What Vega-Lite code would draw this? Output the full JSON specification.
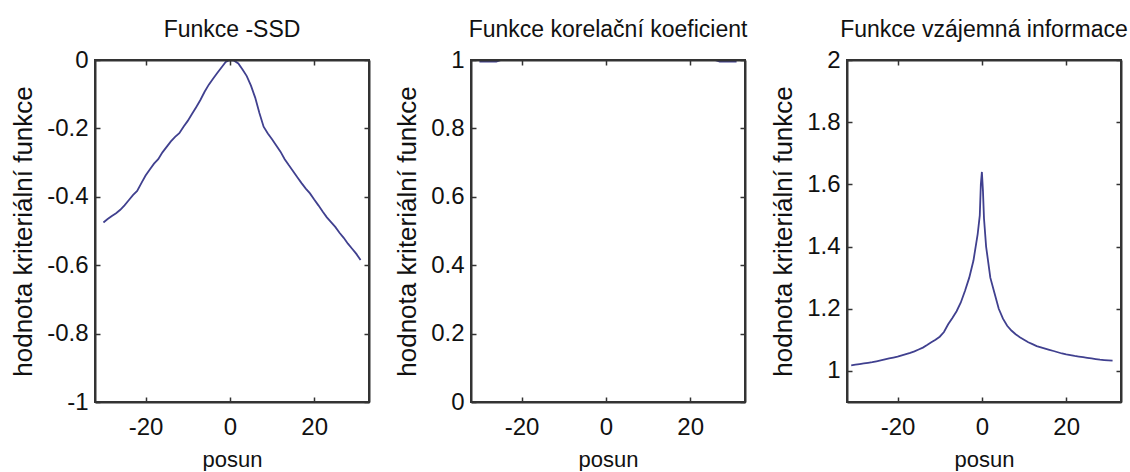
{
  "$schema": "https://vega.github.io/schema/vega-lite/v6.json",
  "background": "white",
  "padding": {"left": 9, "top": 18, "right": 0, "bottom": 0},
  "bounds": "flush",
  "spacing": 102,
  "datasets": {
    "ssd": [
      {"posun": -30, "hodnota": -0.475}, {"posun": -29, "hodnota": -0.465}, {"posun": -28, "hodnota": -0.456},
      {"posun": -27, "hodnota": -0.448}, {"posun": -26, "hodnota": -0.438}, {"posun": -25, "hodnota": -0.425},
      {"posun": -24, "hodnota": -0.41}, {"posun": -23, "hodnota": -0.395}, {"posun": -22, "hodnota": -0.383},
      {"posun": -21, "hodnota": -0.36}, {"posun": -20, "hodnota": -0.338}, {"posun": -19, "hodnota": -0.32},
      {"posun": -18, "hodnota": -0.303}, {"posun": -17, "hodnota": -0.29}, {"posun": -16, "hodnota": -0.27},
      {"posun": -15, "hodnota": -0.254}, {"posun": -14, "hodnota": -0.238}, {"posun": -13, "hodnota": -0.225},
      {"posun": -12, "hodnota": -0.214}, {"posun": -11, "hodnota": -0.195}, {"posun": -10, "hodnota": -0.178},
      {"posun": -9, "hodnota": -0.158}, {"posun": -8, "hodnota": -0.138}, {"posun": -7, "hodnota": -0.117},
      {"posun": -6, "hodnota": -0.093}, {"posun": -5, "hodnota": -0.072}, {"posun": -4, "hodnota": -0.055},
      {"posun": -3, "hodnota": -0.038}, {"posun": -2, "hodnota": -0.022}, {"posun": -1, "hodnota": -0.006},
      {"posun": 0, "hodnota": 0}, {"posun": 1, "hodnota": -0.002}, {"posun": 2, "hodnota": -0.01},
      {"posun": 3, "hodnota": -0.028}, {"posun": 4, "hodnota": -0.047}, {"posun": 5, "hodnota": -0.075},
      {"posun": 6, "hodnota": -0.11}, {"posun": 7, "hodnota": -0.155}, {"posun": 8, "hodnota": -0.195},
      {"posun": 9, "hodnota": -0.215}, {"posun": 10, "hodnota": -0.232}, {"posun": 11, "hodnota": -0.25},
      {"posun": 12, "hodnota": -0.268}, {"posun": 13, "hodnota": -0.29}, {"posun": 14, "hodnota": -0.308},
      {"posun": 15, "hodnota": -0.325}, {"posun": 16, "hodnota": -0.343}, {"posun": 17, "hodnota": -0.36},
      {"posun": 18, "hodnota": -0.376}, {"posun": 19, "hodnota": -0.39}, {"posun": 20, "hodnota": -0.408},
      {"posun": 21, "hodnota": -0.425}, {"posun": 22, "hodnota": -0.443}, {"posun": 23, "hodnota": -0.46},
      {"posun": 24, "hodnota": -0.474}, {"posun": 25, "hodnota": -0.488}, {"posun": 26, "hodnota": -0.505},
      {"posun": 27, "hodnota": -0.52}, {"posun": 28, "hodnota": -0.537}, {"posun": 29, "hodnota": -0.552},
      {"posun": 30, "hodnota": -0.567}, {"posun": 31, "hodnota": -0.585}
    ],
    "kor": [
      {"posun": -30, "hodnota": 0.996}, {"posun": -29, "hodnota": 0.996}, {"posun": -28, "hodnota": 0.996},
      {"posun": -27, "hodnota": 0.996}, {"posun": -26, "hodnota": 0.996}, {"posun": -25, "hodnota": 1},
      {"posun": -24, "hodnota": 1}, {"posun": -23, "hodnota": 1}, {"posun": -22, "hodnota": 1},
      {"posun": -21, "hodnota": 1}, {"posun": -20, "hodnota": 1}, {"posun": -19, "hodnota": 1},
      {"posun": -18, "hodnota": 1}, {"posun": -17, "hodnota": 1}, {"posun": -16, "hodnota": 1},
      {"posun": -15, "hodnota": 1}, {"posun": -14, "hodnota": 1}, {"posun": -13, "hodnota": 1},
      {"posun": -12, "hodnota": 1}, {"posun": -11, "hodnota": 1}, {"posun": -10, "hodnota": 1},
      {"posun": -9, "hodnota": 1}, {"posun": -8, "hodnota": 1}, {"posun": -7, "hodnota": 1},
      {"posun": -6, "hodnota": 1}, {"posun": -5, "hodnota": 1}, {"posun": -4, "hodnota": 1},
      {"posun": -3, "hodnota": 1}, {"posun": -2, "hodnota": 1}, {"posun": -1, "hodnota": 1},
      {"posun": 0, "hodnota": 1}, {"posun": 1, "hodnota": 1}, {"posun": 2, "hodnota": 1},
      {"posun": 3, "hodnota": 1}, {"posun": 4, "hodnota": 1}, {"posun": 5, "hodnota": 1},
      {"posun": 6, "hodnota": 1}, {"posun": 7, "hodnota": 1}, {"posun": 8, "hodnota": 1},
      {"posun": 9, "hodnota": 1}, {"posun": 10, "hodnota": 1}, {"posun": 11, "hodnota": 1},
      {"posun": 12, "hodnota": 1}, {"posun": 13, "hodnota": 1}, {"posun": 14, "hodnota": 1},
      {"posun": 15, "hodnota": 1}, {"posun": 16, "hodnota": 1}, {"posun": 17, "hodnota": 1},
      {"posun": 18, "hodnota": 1}, {"posun": 19, "hodnota": 1}, {"posun": 20, "hodnota": 1},
      {"posun": 21, "hodnota": 1}, {"posun": 22, "hodnota": 1}, {"posun": 23, "hodnota": 1},
      {"posun": 24, "hodnota": 1}, {"posun": 25, "hodnota": 1}, {"posun": 26, "hodnota": 1},
      {"posun": 27, "hodnota": 0.996}, {"posun": 28, "hodnota": 0.996}, {"posun": 29, "hodnota": 0.996},
      {"posun": 30, "hodnota": 0.996}, {"posun": 31, "hodnota": 0.996}
    ],
    "vzi": [
      {"posun": -31, "hodnota": 1.018}, {"posun": -30, "hodnota": 1.02}, {"posun": -29, "hodnota": 1.022},
      {"posun": -28, "hodnota": 1.024}, {"posun": -27, "hodnota": 1.026}, {"posun": -26, "hodnota": 1.028},
      {"posun": -25, "hodnota": 1.031}, {"posun": -24, "hodnota": 1.034}, {"posun": -23, "hodnota": 1.037},
      {"posun": -22, "hodnota": 1.04}, {"posun": -21, "hodnota": 1.043}, {"posun": -20, "hodnota": 1.046},
      {"posun": -19, "hodnota": 1.05}, {"posun": -18, "hodnota": 1.054}, {"posun": -17, "hodnota": 1.058},
      {"posun": -16, "hodnota": 1.063}, {"posun": -15, "hodnota": 1.069}, {"posun": -14, "hodnota": 1.075},
      {"posun": -13, "hodnota": 1.083}, {"posun": -12, "hodnota": 1.092}, {"posun": -11, "hodnota": 1.1},
      {"posun": -10, "hodnota": 1.11}, {"posun": -9, "hodnota": 1.125}, {"posun": -8, "hodnota": 1.15},
      {"posun": -7, "hodnota": 1.17}, {"posun": -6, "hodnota": 1.192}, {"posun": -5, "hodnota": 1.22},
      {"posun": -4, "hodnota": 1.258}, {"posun": -3, "hodnota": 1.3}, {"posun": -2, "hodnota": 1.355},
      {"posun": -1, "hodnota": 1.44}, {"posun": -0.5, "hodnota": 1.5}, {"posun": -0.25, "hodnota": 1.6},
      {"posun": 0, "hodnota": 1.64}, {"posun": 0.25, "hodnota": 1.58}, {"posun": 0.5, "hodnota": 1.49},
      {"posun": 1, "hodnota": 1.4}, {"posun": 2, "hodnota": 1.3}, {"posun": 3, "hodnota": 1.25},
      {"posun": 4, "hodnota": 1.2}, {"posun": 5, "hodnota": 1.168}, {"posun": 6, "hodnota": 1.145},
      {"posun": 7, "hodnota": 1.13}, {"posun": 8, "hodnota": 1.118}, {"posun": 9, "hodnota": 1.108},
      {"posun": 10, "hodnota": 1.1}, {"posun": 11, "hodnota": 1.092}, {"posun": 12, "hodnota": 1.086},
      {"posun": 13, "hodnota": 1.08}, {"posun": 14, "hodnota": 1.076}, {"posun": 15, "hodnota": 1.072},
      {"posun": 16, "hodnota": 1.068}, {"posun": 17, "hodnota": 1.064}, {"posun": 18, "hodnota": 1.06},
      {"posun": 19, "hodnota": 1.056}, {"posun": 20, "hodnota": 1.053}, {"posun": 21, "hodnota": 1.051},
      {"posun": 22, "hodnota": 1.048}, {"posun": 23, "hodnota": 1.046}, {"posun": 24, "hodnota": 1.044},
      {"posun": 25, "hodnota": 1.042}, {"posun": 26, "hodnota": 1.04}, {"posun": 27, "hodnota": 1.038},
      {"posun": 28, "hodnota": 1.036}, {"posun": 29, "hodnota": 1.035}, {"posun": 30, "hodnota": 1.034},
      {"posun": 31, "hodnota": 1.033}
    ]
  },
  "hconcat": [
    {
      "width": 274, "height": 342,
      "title": "Funkce -SSD",
      "data": {"name": "ssd"},
      "resolve": {"axis": {"x": "independent", "y": "independent"}},
      "layer": [
        {
          "mark": {"type": "line", "color": "#40408f", "strokeWidth": 1.8},
          "encoding": {
            "x": {"field": "posun", "type": "quantitative", "scale": {"domain": [-32, 33], "nice": false, "zero": false},
              "axis": {"orient": "bottom", "title": "posun", "values": [-20, 0, 20], "format": "~r", "labelExpr": "replace(datum.label, '−', '-')", "zindex": 1}},
            "y": {"field": "hodnota", "type": "quantitative", "scale": {"domain": [-1, 0], "nice": false, "zero": false},
              "axis": {"orient": "left", "title": "hodnota kriteriální funkce", "values": [-1, -0.8, -0.6, -0.4, -0.2, 0], "format": "~r", "labelExpr": "replace(datum.label, '−', '-')", "zindex": 1}}
          }
        },
        {
          "mark": {"type": "point", "opacity": 0},
          "encoding": {
            "x": {"field": "posun", "type": "quantitative", "axis": {"orient": "top", "labels": false, "title": "", "domain": true, "ticks": true, "values": [-20, 0, 20], "zindex": 1}},
            "y": {"field": "hodnota", "type": "quantitative", "axis": {"orient": "right", "labels": false, "title": "", "domain": true, "ticks": true, "values": [-1, -0.8, -0.6, -0.4, -0.2, 0], "zindex": 1}}
          }
        }
      ]
    },
    {
      "width": 274, "height": 342,
      "title": "Funkce korelační koeficient",
      "data": {"name": "kor"},
      "resolve": {"axis": {"x": "independent", "y": "independent"}},
      "layer": [
        {
          "mark": {"type": "line", "color": "#40408f", "strokeWidth": 2.2},
          "encoding": {
            "x": {"field": "posun", "type": "quantitative", "scale": {"domain": [-32, 33], "nice": false, "zero": false},
              "axis": {"orient": "bottom", "title": "posun", "values": [-20, 0, 20], "format": "~r", "labelExpr": "replace(datum.label, '−', '-')", "zindex": 1}},
            "y": {"field": "hodnota", "type": "quantitative", "scale": {"domain": [0, 1], "nice": false, "zero": false},
              "axis": {"orient": "left", "title": "hodnota kriteriální funkce", "values": [0, 0.2, 0.4, 0.6, 0.8, 1], "format": "~r", "labelExpr": "replace(datum.label, '−', '-')", "zindex": 1}}
          }
        },
        {
          "mark": {"type": "point", "opacity": 0},
          "encoding": {
            "x": {"field": "posun", "type": "quantitative", "axis": {"orient": "top", "labels": false, "title": "", "domain": true, "ticks": true, "values": [-20, 0, 20], "zindex": 1}},
            "y": {"field": "hodnota", "type": "quantitative", "axis": {"orient": "right", "labels": false, "title": "", "domain": true, "ticks": true, "values": [0, 0.2, 0.4, 0.6, 0.8, 1], "zindex": 1}}
          }
        }
      ]
    },
    {
      "width": 274, "height": 342,
      "title": "Funkce vzájemná informace",
      "data": {"name": "vzi"},
      "resolve": {"axis": {"x": "independent", "y": "independent"}},
      "layer": [
        {
          "mark": {"type": "line", "color": "#40408f", "strokeWidth": 1.8},
          "encoding": {
            "x": {"field": "posun", "type": "quantitative", "scale": {"domain": [-32, 33], "nice": false, "zero": false},
              "axis": {"orient": "bottom", "title": "posun", "values": [-20, 0, 20], "format": "~r", "labelExpr": "replace(datum.label, '−', '-')", "zindex": 1}},
            "y": {"field": "hodnota", "type": "quantitative", "scale": {"domain": [0.9, 2], "nice": false, "zero": false},
              "axis": {"orient": "left", "title": "hodnota kriteriální funkce", "values": [1, 1.2, 1.4, 1.6, 1.8, 2], "format": "~r", "labelExpr": "replace(datum.label, '−', '-')", "zindex": 1}}
          }
        },
        {
          "mark": {"type": "point", "opacity": 0},
          "encoding": {
            "x": {"field": "posun", "type": "quantitative", "axis": {"orient": "top", "labels": false, "title": "", "domain": true, "ticks": true, "values": [-20, 0, 20], "zindex": 1}},
            "y": {"field": "hodnota", "type": "quantitative", "axis": {"orient": "right", "labels": false, "title": "", "domain": true, "ticks": true, "values": [1, 1.2, 1.4, 1.6, 1.8, 2], "zindex": 1}}
          }
        }
      ]
    }
  ],
  "config": {
    "view": {"stroke": "#333333", "strokeWidth": 2},
    "style": {"cell": {"strokeForeground": true}},
    "axis": {
      "grid": false,
      "domainColor": "#333333", "domainWidth": 2,
      "tickColor": "#333333", "tickWidth": 1.5, "tickSize": -5,
      "labelFont": "Liberation Sans", "labelFontSize": 24, "labelColor": "#111111",
      "titleFont": "Liberation Sans", "titleFontWeight": "normal", "titleColor": "#111111"
    },
    "axisBottom": {"titleFontSize": 22, "titlePadding": 10, "labelPadding": 18},
    "axisLeft": {"titleFontSize": 26, "titlePadding": 10, "labelPadding": 12},
    "title": {"font": "Liberation Sans", "fontSize": 23, "fontWeight": "normal", "color": "#111111", "anchor": "middle", "offset": 6}
  }
}
